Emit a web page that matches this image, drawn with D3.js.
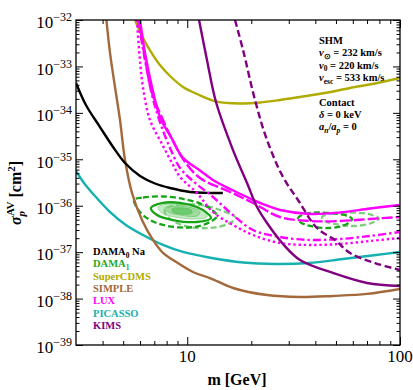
<!DOCTYPE html>
<html><head><meta charset="utf-8">
<script src="https://cdn.jsdelivr.net/npm/d3@7"></script>
<style>body{margin:0;background:#fff} svg{display:block}</style>
</head><body>
<script>
// ---------- data (mass in GeV, cross-section in cm^2) ----------
const damaNaMass  = [3.0, 3.34, 3.89, 4.48, 5.10, 6.00, 7.05, 8.30, 10.3, 12.8, 14.7];
const damaNaSigma = [4.4e-34, 1.48e-34, 4.95e-35, 1.84e-35, 8.3e-36, 4.37e-36, 3.01e-36, 2.41e-36, 1.98e-36, 1.88e-36, 1.88e-36];

const superCdmsMass  = [5.68, 6.13, 6.75, 7.44, 8.30, 9.55, 11.11, 13.80, 17.70, 21.98, 27.29, 33.88, 44.4, 58.2, 76.3, 100];
const superCdmsSigma = [1e-32, 4.52e-33, 2.05e-33, 1.07e-33, 6.22e-34, 3.61e-34, 2.55e-34, 1.74e-34, 1.59e-34, 1.67e-34, 1.89e-34, 2.20e-34, 2.68e-34, 3.43e-34, 4.29e-34, 5.64e-34];

const simpleMass  = [4.17, 4.335, 4.575, 4.83, 5.10, 5.50, 6.13, 6.90, 7.69, 8.57, 10.64, 12.79, 16.41, 23.71, 33.88, 48.4, 70.0, 100];
const simpleSigma = [1e-32, 1.95e-33, 3.61e-34, 7.02e-35, 9.66e-36, 1.88e-36, 4.92e-37, 1.83e-37, 9.59e-38, 6.78e-38, 3.74e-38, 2.77e-38, 1.69e-38, 1.19e-38, 1.08e-38, 1.14e-38, 1.26e-38, 1.61e-38];

const luxMass  = [6.00, 6.33, 6.83, 7.44, 8.48, 9.55, 11.48, 13.21, 15.89, 19.10, 23.20, 27.29, 37.76, 52.24, 72.28, 100];
const luxSigma = [1e-32, 1.95e-33, 3.61e-34, 8.15e-35, 2.74e-35, 1.07e-35, 5.74e-36, 3.58e-36, 2.29e-36, 1.54e-36, 1.04e-36, 8.09e-37, 6.64e-37, 7.14e-37, 8.71e-37, 1.04e-36];

const luxDashedMass  = [5.93, 6.33, 6.83, 7.69, 8.76, 9.76, 11.48, 15.89, 20.38, 27.29, 37.76, 52.24, 72.28, 100];
const luxDashedSigma = [1e-32, 1.52e-33, 2.68e-34, 7.02e-35, 2.03e-35, 8.75e-36, 3.95e-36, 1.98e-36, 1.15e-36, 5.71e-37, 4.69e-37, 4.69e-37, 5.18e-37, 5.71e-37];

const luxDashDotMass  = [5.87, 6.33, 6.83, 7.44, 8.30, 9.25, 10.64, 13.21, 16.41, 20.38, 27.29, 37.76, 52.24, 72.28, 100];
const luxDashDotSigma = [1e-32, 1.38e-33, 2.43e-34, 6.35e-35, 1.75e-35, 6.49e-36, 3.40e-36, 1.54e-36, 6.31e-37, 3.00e-37, 2.12e-37, 1.83e-37, 1.92e-37, 2.23e-37, 2.72e-37];

const luxDottedMass  = [5.80, 5.965, 6.19, 6.68, 7.61, 8.48, 9.25, 11.11, 13.21, 16.41, 20.38, 27.29, 37.76, 52.24, 72.28, 100];
const luxDottedSigma = [1e-32, 1.76e-33, 3.61e-34, 7.02e-35, 2.13e-35, 8.32e-36, 4.16e-36, 1.88e-36, 7.33e-37, 3.85e-37, 2.34e-37, 1.57e-37, 1.43e-37, 1.50e-37, 1.74e-37, 2.02e-37];

const picassoMass  = [3.00, 3.27, 3.61, 4.29, 5.15, 6.19, 7.69, 9.55, 12.65, 18.29, 26.14, 37.35, 53.97, 77.14, 100];
const picassoSigma = [5.60e-36, 3.08e-36, 1.79e-36, 7.69e-37, 3.85e-37, 2.34e-37, 1.43e-37, 1.01e-37, 7.67e-38, 5.98e-38, 5.56e-38, 5.83e-38, 7.11e-38, 8.69e-38, 1.01e-37];

const kimsMass  = [11.36, 12.38, 13.65, 16.41, 19.10, 21.28, 23.71, 28.19, 33.88, 48.4, 70.0, 100];
const kimsSigma = [1e-32, 1.38e-33, 1.71e-34, 1.58e-35, 3.08e-36, 9.38e-37, 4.25e-37, 1.50e-37, 6.78e-38, 3.56e-38, 2.17e-38, 1.87e-38];

const kimsDashedMass  = [16.77, 18.29, 20.82, 23.71, 28.19, 33.16, 40.72, 49.48, 58.2, 76.3, 100];
const kimsDashedSigma = [1e-32, 2.26e-33, 1.89e-34, 2.60e-35, 4.16e-36, 1.33e-36, 3.31e-37, 1.83e-37, 9.59e-38, 5.83e-38, 4.13e-38];

// DAMA1 contours (closed)
const damaLowOuterMass  = [5.62, 6.19, 7.69, 9.55, 11.48, 12.93, 13.80, 12.79, 11.11, 9.25, 7.69, 6.68, 6.00];
const damaLowOuterSigma = [1.33e-36, 1.50e-36, 1.58e-36, 1.40e-36, 1.12e-36, 8.50e-37, 6.01e-37, 4.46e-37, 3.56e-37, 3.40e-37, 3.85e-37, 4.92e-37, 7.33e-37];
const damaLowLightMass  = [7.86, 9.25, 11.48, 14.25, 16.95, 15.54, 12.79, 10.30, 8.76, 7.95];
const damaLowLightSigma = [8.50e-37, 1.04e-36, 1.04e-36, 8.09e-37, 5.44e-37, 4.04e-37, 3.31e-37, 3.48e-37, 4.46e-37, 6.31e-37];
const damaLowSolidMass  = [6.75, 7.69, 9.25, 11.11, 12.38, 12.93, 11.11, 8.57, 7.21];
const damaLowSolidSigma = [8.93e-37, 1.15e-36, 1.15e-36, 9.38e-37, 6.97e-37, 5.44e-37, 4.46e-37, 4.92e-37, 6.31e-37];
const damaFill1Mass  = [7.29, 8.30, 10.30, 12.12, 12.38, 10.87, 8.76, 7.61];
const damaFill1Sigma = [9.38e-37, 1.09e-36, 9.86e-37, 7.33e-37, 5.71e-37, 5.18e-37, 5.71e-37, 6.97e-37];
const damaFill2Mass  = [7.86, 8.95, 10.53, 11.48, 11.11, 9.25, 8.12];
const damaFill2Sigma = [8.93e-37, 9.86e-37, 8.93e-37, 7.33e-37, 6.01e-37, 6.31e-37, 7.33e-37];
const damaFill3Mass  = [8.48, 9.45, 10.41, 10.53, 9.45, 8.57];
const damaFill3Sigma = [8.50e-37, 8.93e-37, 8.09e-37, 6.97e-37, 6.64e-37, 7.33e-37];
const damaHighOuterMass  = [33.16, 35.77, 41.17, 49.48, 56.95, 59.5, 55.14, 45.87, 37.76, 33.88];
const damaHighOuterSigma = [5.44e-37, 6.64e-37, 7.14e-37, 6.80e-37, 6.01e-37, 5.18e-37, 3.85e-37, 3.31e-37, 3.66e-37, 4.46e-37];
const damaHighLightMass  = [42.99, 47.90, 58.2, 70.7, 79.7, 72.28, 59.5, 49.48, 44.4];
const damaHighLightSigma = [5.71e-37, 6.80e-37, 7.14e-37, 6.64e-37, 5.31e-37, 4.14e-37, 3.66e-37, 4.04e-37, 4.69e-37];

const xTickLabels = [10, 100];
const yTickExponents = [-32, -33, -34, -35, -36, -37, -38, -39];
const legendMain = ["DAMA", "DAMA", "SuperCDMS", "SIMPLE", "LUX", "PICASSO", "KIMS"];
const legendSub  = ["0", "1", "", "", "", "", ""];
const legendTail = [" Na", "", "", "", "", "", ""];
const legendColors = ["#000000", "#1fa81f", "#b0ab00", "#a3693b", "#ff00ff", "#16b0b0", "#800080"];

// ---------- drawing ----------
const W = 413, H = 390;
const L = 76, R = 400, T = 20, B = 345;
const serif = "'Liberation Serif','Times New Roman',serif";
const svg = d3.select("body").append("svg").attr("width", W).attr("height", H);
const x = d3.scaleLog().domain([3, 100]).range([L, R]);
const y = d3.scaleLog().domain([1e-39, 1e-32]).range([B, T]);

svg.append("defs").append("clipPath").attr("id", "clip")
  .append("rect").attr("x", L).attr("y", T).attr("width", R - L).attr("height", B - T);
const plot = svg.append("g").attr("clip-path", "url(#clip)");

const zip = (ms, ss) => ms.map((m, i) => [m, ss[i]]);
const line = d3.line().x(d => x(d[0])).y(d => y(d[1])).curve(d3.curveCatmullRom.alpha(0.5));
const closed = d3.line().x(d => x(d[0])).y(d => y(d[1])).curve(d3.curveCatmullRomClosed.alpha(0.5));

function drawLine(ms, ss, color, dash, w) {
  plot.append("path").attr("d", line(zip(ms, ss))).attr("fill", "none")
    .attr("stroke", color).attr("stroke-width", w || 2.4)
    .attr("stroke-dasharray", dash || null);
}
function drawClosed(ms, ss, color, dash, w, fill) {
  plot.append("path").attr("d", closed(zip(ms, ss))).attr("fill", fill || "none")
    .attr("stroke", color).attr("stroke-width", w)
    .attr("stroke-dasharray", dash || null);
}

// DAMA contours
drawClosed(damaFill1Mass, damaFill1Sigma, "#9ad99a", null, 1, "#c4eac4");
drawClosed(damaFill2Mass, damaFill2Sigma, "#7fcf7f", null, 1, "#9edc9e");
drawClosed(damaFill3Mass, damaFill3Sigma, "#5cc45c", null, 1, "#6fcb6f");
drawClosed(damaLowLightMass, damaLowLightSigma, "#7ecf7e", "6,3", 2.3);
drawClosed(damaHighLightMass, damaHighLightSigma, "#7ecf7e", "6,3", 2.3);
drawClosed(damaLowSolidMass, damaLowSolidSigma, "#16a316", null, 2.3);
drawClosed(damaLowOuterMass, damaLowOuterSigma, "#16a316", "6,3", 2.3);
drawClosed(damaHighOuterMass, damaHighOuterSigma, "#16a316", "6,3", 2.3);

// exclusion curves
drawLine(picassoMass, picassoSigma, "#16b0b0");
drawLine(simpleMass, simpleSigma, "#a3693b");
drawLine(superCdmsMass, superCdmsSigma, "#b0ab00");
drawLine(damaNaMass, damaNaSigma, "#000000");
drawLine(luxDottedMass, luxDottedSigma, "#ff00ff", "2.4,2.8");
drawLine(luxDashDotMass, luxDashDotSigma, "#ff00ff", "8,3,2.4,3");
drawLine(luxDashedMass, luxDashedSigma, "#ff00ff", "11,3");
drawLine(luxMass, luxSigma, "#ff00ff");
drawLine(kimsMass, kimsSigma, "#800080");
drawLine(kimsDashedMass, kimsDashedSigma, "#800080", "7,3.5");

// axes / ticks
const xMajor = [10, 100];
const xMinor = [4, 5, 6, 7, 8, 9, 20, 30, 40, 50, 60, 70, 80, 90];
const yMajor = yTickExponents.map(e => Math.pow(10, e));
const yMinor = [];
for (let e = -39; e < -32; e++) for (let k = 2; k <= 9; k++) yMinor.push(k * Math.pow(10, e));

function ticks(axis, vals, size, tr) {
  const g = svg.append("g").attr("transform", tr)
    .call(axis.tickValues(vals).tickSize(size).tickFormat(""));
  g.select(".domain").remove();
  g.selectAll("line").attr("stroke", "#000").attr("stroke-width", 1);
}
ticks(d3.axisBottom(x), xMajor, -8, `translate(0,${B})`);
ticks(d3.axisBottom(x), xMinor, -4, `translate(0,${B})`);
ticks(d3.axisTop(x), xMajor, -8, `translate(0,${T})`);
ticks(d3.axisTop(x), xMinor, -4, `translate(0,${T})`);
ticks(d3.axisLeft(y), yMajor, -7, `translate(${L},0)`);
ticks(d3.axisLeft(y), yMinor, -3.5, `translate(${L},0)`);
ticks(d3.axisRight(y), yMajor, -7, `translate(${R},0)`);
ticks(d3.axisRight(y), yMinor, -3.5, `translate(${R},0)`);

svg.append("rect").attr("x", L).attr("y", T).attr("width", R - L).attr("height", B - T)
  .attr("fill", "none").attr("stroke", "#000").attr("stroke-width", 1.3);

// tick labels
xTickLabels.forEach(v => {
  svg.append("text").attr("x", x(v)).attr("y", 362).attr("text-anchor", "middle")
    .attr("font-family", serif).attr("font-size", 17).text(v);
});
yTickExponents.forEach(e => {
  const t = svg.append("text").attr("x", 72).attr("y", y(Math.pow(10, e)) + 8.3)
    .attr("text-anchor", "end").attr("font-family", serif).attr("font-size", 17);
  t.append("tspan").text("10");
  t.append("tspan").attr("font-size", 12).attr("dy", -7).text("\u2212" + (-e));
});

// axis titles
svg.append("text").attr("x", 237).attr("y", 385).attr("text-anchor", "middle")
  .attr("font-family", serif).attr("font-weight", "bold").attr("font-size", 16).text("m [GeV]");
const yl = svg.append("text").attr("transform", "translate(21,193) rotate(-90)")
  .attr("text-anchor", "middle").attr("font-family", serif).attr("font-weight", "bold").attr("font-size", 16);
yl.append("tspan").attr("font-style", "italic").text("σ");
yl.append("tspan").attr("font-size", 11).attr("font-style", "italic").attr("dy", 4).text("p");
yl.append("tspan").attr("font-size", 11).attr("dx", -5).attr("dy", -11).text("AV");
yl.append("tspan").attr("dy", 7).text(" [cm");
yl.append("tspan").attr("font-size", 11).attr("dy", -6).text("2");
yl.append("tspan").attr("dy", 6).text("]");

// legend
legendMain.forEach((name, i) => {
  const t = svg.append("text").attr("x", 93).attr("y", 255 + i * 12.3)
    .attr("font-family", serif).attr("font-weight", "bold").attr("font-size", 10.5)
    .attr("fill", legendColors[i]);
  t.append("tspan").text(name);
  if (legendSub[i]) t.append("tspan").attr("font-size", 7.5).attr("dy", 2.5).text(legendSub[i]);
  if (legendTail[i]) t.append("tspan").attr("dy", -2.5).text(legendTail[i]);
});

// annotation
const ax = 319;
function ann(yy, parts) {
  const t = svg.append("text").attr("x", ax).attr("y", yy).attr("font-family", serif)
    .attr("font-weight", "bold").attr("font-size", 10.5);
  parts.forEach(p => {
    const s = t.append("tspan").text(p.t);
    if (p.i) s.attr("font-style", "italic");
    if (p.sub) s.attr("font-size", 7.5).attr("dy", p.dy);
    else if (p.dy) s.attr("dy", p.dy);
  });
}
ann(44, [{t: "SHM"}]);
ann(56, [{t: "v", i: 1}, {t: "\u2299", sub: 1, dy: 3}, {t: " = 232 km/s", dy: -3}]);
ann(68.5, [{t: "v", i: 1}, {t: "0", sub: 1, dy: 2.5}, {t: " = 220 km/s", dy: -2.5}]);
ann(81, [{t: "v", i: 1}, {t: "esc", sub: 1, dy: 2.5}, {t: " = 533 km/s", dy: -2.5}]);
ann(105.5, [{t: "Contact"}]);
ann(118, [{t: "δ", i: 1}, {t: " = 0 keV"}]);
ann(130, [{t: "a", i: 1}, {t: "n", i: 1, sub: 1, dy: 2.5}, {t: "/", dy: -2.5}, {t: "a", i: 1}, {t: "p", i: 1, sub: 1, dy: 2.5}, {t: " = 0", dy: -2.5}]);
</script>
</body></html>
